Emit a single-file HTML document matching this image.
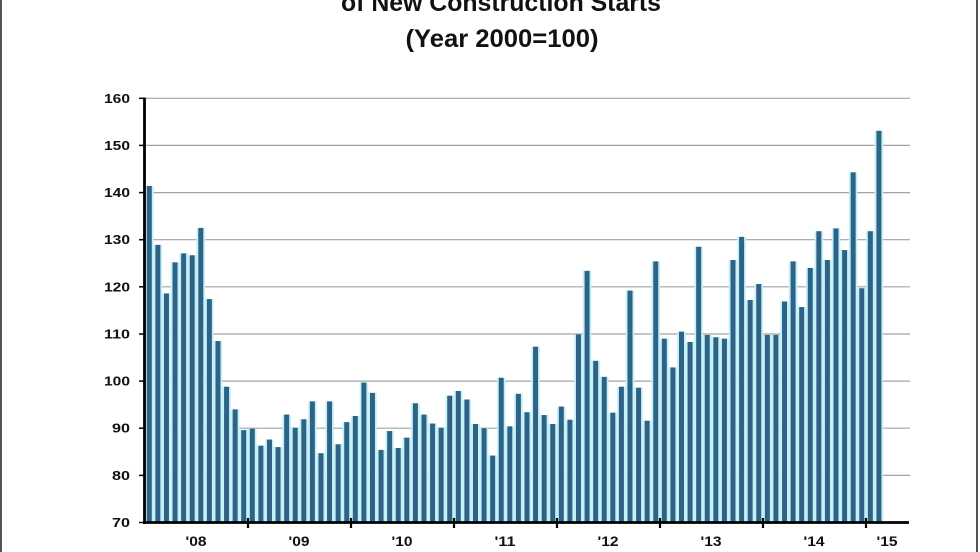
<!DOCTYPE html>
<html><head><meta charset="utf-8"><style>
html,body{margin:0;padding:0;background:#fff;}
svg{display:block;}
text{font-family:"Liberation Sans",Arial,sans-serif;font-weight:bold;fill:#111;}
</style></head><body>
<svg width="980" height="552" viewBox="0 0 980 552" xmlns="http://www.w3.org/2000/svg">
<rect x="0" y="0" width="980" height="552" fill="#fff"/>
<rect x="0" y="0" width="2" height="552" fill="#555"/>
<rect x="976" y="0" width="2" height="552" fill="#555"/>
<text x="501" y="11" font-size="25" text-anchor="middle" textLength="320" lengthAdjust="spacingAndGlyphs">of New Construction Starts</text>
<text x="502" y="47" font-size="25" text-anchor="middle" textLength="193" lengthAdjust="spacingAndGlyphs">(Year 2000=100)</text>
<g stroke="#a3a3a3" stroke-width="1.2">
<line x1="145" x2="910" y1="475.4" y2="475.4"/>
<line x1="145" x2="910" y1="428.2" y2="428.2"/>
<line x1="145" x2="910" y1="381.1" y2="381.1"/>
<line x1="145" x2="910" y1="334.0" y2="334.0"/>
<line x1="145" x2="910" y1="286.8" y2="286.8"/>
<line x1="145" x2="910" y1="239.7" y2="239.7"/>
<line x1="145" x2="910" y1="192.6" y2="192.6"/>
<line x1="145" x2="910" y1="145.4" y2="145.4"/>
<line x1="145" x2="910" y1="98.3" y2="98.3"/>
</g>
<g transform="translate(145,522.5) scale(8.584,-4.7133)">
<g fill="#c4f0fa">
<rect x="0" y="0" width="1" height="71.4"/><rect x="1" y="0" width="1" height="58.9"/><rect x="2" y="0" width="1" height="48.6"/><rect x="3" y="0" width="1" height="55.2"/><rect x="4" y="0" width="1" height="57.1"/><rect x="5" y="0" width="1" height="56.7"/><rect x="6" y="0" width="1" height="62.5"/><rect x="7" y="0" width="1" height="47.4"/><rect x="8" y="0" width="1" height="38.5"/><rect x="9" y="0" width="1" height="28.8"/><rect x="10" y="0" width="1" height="24.0"/><rect x="11" y="0" width="1" height="19.6"/>
<rect x="12" y="0" width="1" height="19.9"/><rect x="13" y="0" width="1" height="16.3"/><rect x="14" y="0" width="1" height="17.6"/><rect x="15" y="0" width="1" height="16.0"/><rect x="16" y="0" width="1" height="22.9"/><rect x="17" y="0" width="1" height="20.1"/><rect x="18" y="0" width="1" height="21.9"/><rect x="19" y="0" width="1" height="25.7"/><rect x="20" y="0" width="1" height="14.7"/><rect x="21" y="0" width="1" height="25.7"/><rect x="22" y="0" width="1" height="16.6"/><rect x="23" y="0" width="1" height="21.3"/>
<rect x="24" y="0" width="1" height="22.6"/><rect x="25" y="0" width="1" height="29.7"/><rect x="26" y="0" width="1" height="27.5"/><rect x="27" y="0" width="1" height="15.4"/><rect x="28" y="0" width="1" height="19.4"/><rect x="29" y="0" width="1" height="15.8"/><rect x="30" y="0" width="1" height="18.0"/><rect x="31" y="0" width="1" height="25.3"/><rect x="32" y="0" width="1" height="22.9"/><rect x="33" y="0" width="1" height="21.0"/><rect x="34" y="0" width="1" height="20.1"/><rect x="35" y="0" width="1" height="26.9"/>
<rect x="36" y="0" width="1" height="27.9"/><rect x="37" y="0" width="1" height="26.1"/><rect x="38" y="0" width="1" height="20.9"/><rect x="39" y="0" width="1" height="20.0"/><rect x="40" y="0" width="1" height="14.2"/><rect x="41" y="0" width="1" height="30.7"/><rect x="42" y="0" width="1" height="20.4"/><rect x="43" y="0" width="1" height="27.3"/><rect x="44" y="0" width="1" height="23.4"/><rect x="45" y="0" width="1" height="37.3"/><rect x="46" y="0" width="1" height="22.8"/><rect x="47" y="0" width="1" height="20.9"/>
<rect x="48" y="0" width="1" height="24.6"/><rect x="49" y="0" width="1" height="21.8"/><rect x="50" y="0" width="1" height="39.9"/><rect x="51" y="0" width="1" height="53.4"/><rect x="52" y="0" width="1" height="34.3"/><rect x="53" y="0" width="1" height="30.9"/><rect x="54" y="0" width="1" height="23.3"/><rect x="55" y="0" width="1" height="28.8"/><rect x="56" y="0" width="1" height="49.2"/><rect x="57" y="0" width="1" height="28.6"/><rect x="58" y="0" width="1" height="21.6"/><rect x="59" y="0" width="1" height="55.4"/>
<rect x="60" y="0" width="1" height="39.0"/><rect x="61" y="0" width="1" height="32.9"/><rect x="62" y="0" width="1" height="40.5"/><rect x="63" y="0" width="1" height="38.3"/><rect x="64" y="0" width="1" height="58.5"/><rect x="65" y="0" width="1" height="39.8"/><rect x="66" y="0" width="1" height="39.3"/><rect x="67" y="0" width="1" height="39.0"/><rect x="68" y="0" width="1" height="55.7"/><rect x="69" y="0" width="1" height="60.6"/><rect x="70" y="0" width="1" height="47.2"/><rect x="71" y="0" width="1" height="50.6"/>
<rect x="72" y="0" width="1" height="39.8"/><rect x="73" y="0" width="1" height="39.8"/><rect x="74" y="0" width="1" height="46.9"/><rect x="75" y="0" width="1" height="55.4"/><rect x="76" y="0" width="1" height="45.7"/><rect x="77" y="0" width="1" height="54.0"/><rect x="78" y="0" width="1" height="61.8"/><rect x="79" y="0" width="1" height="55.7"/><rect x="80" y="0" width="1" height="62.4"/><rect x="81" y="0" width="1" height="57.8"/><rect x="82" y="0" width="1" height="74.3"/><rect x="83" y="0" width="1" height="49.7"/>
<rect x="84" y="0" width="1" height="61.8"/><rect x="85" y="0" width="1" height="83.1"/>
</g>
<g fill="#2e6386">
<rect x="0.21" y="0" width="0.58" height="71.4"/><rect x="1.21" y="0" width="0.58" height="58.9"/><rect x="2.21" y="0" width="0.58" height="48.6"/><rect x="3.21" y="0" width="0.58" height="55.2"/><rect x="4.21" y="0" width="0.58" height="57.1"/><rect x="5.21" y="0" width="0.58" height="56.7"/><rect x="6.21" y="0" width="0.58" height="62.5"/><rect x="7.21" y="0" width="0.58" height="47.4"/><rect x="8.21" y="0" width="0.58" height="38.5"/><rect x="9.21" y="0" width="0.58" height="28.8"/><rect x="10.21" y="0" width="0.58" height="24.0"/><rect x="11.21" y="0" width="0.58" height="19.6"/>
<rect x="12.21" y="0" width="0.58" height="19.9"/><rect x="13.21" y="0" width="0.58" height="16.3"/><rect x="14.21" y="0" width="0.58" height="17.6"/><rect x="15.21" y="0" width="0.58" height="16.0"/><rect x="16.21" y="0" width="0.58" height="22.9"/><rect x="17.21" y="0" width="0.58" height="20.1"/><rect x="18.21" y="0" width="0.58" height="21.9"/><rect x="19.21" y="0" width="0.58" height="25.7"/><rect x="20.21" y="0" width="0.58" height="14.7"/><rect x="21.21" y="0" width="0.58" height="25.7"/><rect x="22.21" y="0" width="0.58" height="16.6"/><rect x="23.21" y="0" width="0.58" height="21.3"/>
<rect x="24.21" y="0" width="0.58" height="22.6"/><rect x="25.21" y="0" width="0.58" height="29.7"/><rect x="26.21" y="0" width="0.58" height="27.5"/><rect x="27.21" y="0" width="0.58" height="15.4"/><rect x="28.21" y="0" width="0.58" height="19.4"/><rect x="29.21" y="0" width="0.58" height="15.8"/><rect x="30.21" y="0" width="0.58" height="18.0"/><rect x="31.21" y="0" width="0.58" height="25.3"/><rect x="32.21" y="0" width="0.58" height="22.9"/><rect x="33.21" y="0" width="0.58" height="21.0"/><rect x="34.21" y="0" width="0.58" height="20.1"/><rect x="35.21" y="0" width="0.58" height="26.9"/>
<rect x="36.21" y="0" width="0.58" height="27.9"/><rect x="37.21" y="0" width="0.58" height="26.1"/><rect x="38.21" y="0" width="0.58" height="20.9"/><rect x="39.21" y="0" width="0.58" height="20.0"/><rect x="40.21" y="0" width="0.58" height="14.2"/><rect x="41.21" y="0" width="0.58" height="30.7"/><rect x="42.21" y="0" width="0.58" height="20.4"/><rect x="43.21" y="0" width="0.58" height="27.3"/><rect x="44.21" y="0" width="0.58" height="23.4"/><rect x="45.21" y="0" width="0.58" height="37.3"/><rect x="46.21" y="0" width="0.58" height="22.8"/><rect x="47.21" y="0" width="0.58" height="20.9"/>
<rect x="48.21" y="0" width="0.58" height="24.6"/><rect x="49.21" y="0" width="0.58" height="21.8"/><rect x="50.21" y="0" width="0.58" height="39.9"/><rect x="51.21" y="0" width="0.58" height="53.4"/><rect x="52.21" y="0" width="0.58" height="34.3"/><rect x="53.21" y="0" width="0.58" height="30.9"/><rect x="54.21" y="0" width="0.58" height="23.3"/><rect x="55.21" y="0" width="0.58" height="28.8"/><rect x="56.21" y="0" width="0.58" height="49.2"/><rect x="57.21" y="0" width="0.58" height="28.6"/><rect x="58.21" y="0" width="0.58" height="21.6"/><rect x="59.21" y="0" width="0.58" height="55.4"/>
<rect x="60.21" y="0" width="0.58" height="39.0"/><rect x="61.21" y="0" width="0.58" height="32.9"/><rect x="62.21" y="0" width="0.58" height="40.5"/><rect x="63.21" y="0" width="0.58" height="38.3"/><rect x="64.21" y="0" width="0.58" height="58.5"/><rect x="65.21" y="0" width="0.58" height="39.8"/><rect x="66.21" y="0" width="0.58" height="39.3"/><rect x="67.21" y="0" width="0.58" height="39.0"/><rect x="68.21" y="0" width="0.58" height="55.7"/><rect x="69.21" y="0" width="0.58" height="60.6"/><rect x="70.21" y="0" width="0.58" height="47.2"/><rect x="71.21" y="0" width="0.58" height="50.6"/>
<rect x="72.21" y="0" width="0.58" height="39.8"/><rect x="73.21" y="0" width="0.58" height="39.8"/><rect x="74.21" y="0" width="0.58" height="46.9"/><rect x="75.21" y="0" width="0.58" height="55.4"/><rect x="76.21" y="0" width="0.58" height="45.7"/><rect x="77.21" y="0" width="0.58" height="54.0"/><rect x="78.21" y="0" width="0.58" height="61.8"/><rect x="79.21" y="0" width="0.58" height="55.7"/><rect x="80.21" y="0" width="0.58" height="62.4"/><rect x="81.21" y="0" width="0.58" height="57.8"/><rect x="82.21" y="0" width="0.58" height="74.3"/><rect x="83.21" y="0" width="0.58" height="49.7"/>
<rect x="84.21" y="0" width="0.58" height="61.8"/><rect x="85.21" y="0" width="0.58" height="83.1"/>
</g>
</g>
<g stroke="#000" fill="none">
<line x1="144.5" y1="97.5" x2="144.5" y2="524" stroke-width="2.8"/>
<line x1="143" y1="522.5" x2="909" y2="522.5" stroke-width="2.8"/>
<g stroke-width="1.5">
<line x1="139" x2="145" y1="98.3" y2="98.3"/>
<line x1="139" x2="145" y1="145.4" y2="145.4"/>
<line x1="139" x2="145" y1="192.6" y2="192.6"/>
<line x1="139" x2="145" y1="239.7" y2="239.7"/>
<line x1="139" x2="145" y1="286.8" y2="286.8"/>
<line x1="139" x2="145" y1="334.0" y2="334.0"/>
<line x1="139" x2="145" y1="381.1" y2="381.1"/>
<line x1="139" x2="145" y1="428.2" y2="428.2"/>
<line x1="139" x2="145" y1="475.4" y2="475.4"/>
<line x1="139" x2="145" y1="522.5" y2="522.5"/>
</g>
<g stroke-width="2.2">
<line x1="248" x2="248" y1="518" y2="528"/>
<line x1="351" x2="351" y1="518" y2="528"/>
<line x1="454" x2="454" y1="518" y2="528"/>
<line x1="557" x2="557" y1="518" y2="528"/>
<line x1="660" x2="660" y1="518" y2="528"/>
<line x1="763" x2="763" y1="518" y2="528"/>
<line x1="866" x2="866" y1="518" y2="528"/>
</g>
</g>
<g font-size="12.5" text-anchor="end">
<text x="130" y="102.8" textLength="26" lengthAdjust="spacingAndGlyphs">160</text>
<text x="130" y="149.9" textLength="26" lengthAdjust="spacingAndGlyphs">150</text>
<text x="130" y="197.1" textLength="26" lengthAdjust="spacingAndGlyphs">140</text>
<text x="130" y="244.2" textLength="26" lengthAdjust="spacingAndGlyphs">130</text>
<text x="130" y="291.3" textLength="26" lengthAdjust="spacingAndGlyphs">120</text>
<text x="130" y="338.5" textLength="26" lengthAdjust="spacingAndGlyphs">110</text>
<text x="130" y="385.6" textLength="26" lengthAdjust="spacingAndGlyphs">100</text>
<text x="130" y="432.7" textLength="18" lengthAdjust="spacingAndGlyphs">90</text>
<text x="130" y="479.9" textLength="18" lengthAdjust="spacingAndGlyphs">80</text>
<text x="130" y="527.0" textLength="18" lengthAdjust="spacingAndGlyphs">70</text>
</g>
<g font-size="13.5" text-anchor="middle">
<text x="196" y="546" textLength="21" lengthAdjust="spacingAndGlyphs">'08</text>
<text x="299" y="546" textLength="21" lengthAdjust="spacingAndGlyphs">'09</text>
<text x="402" y="546" textLength="21" lengthAdjust="spacingAndGlyphs">'10</text>
<text x="505" y="546" textLength="21" lengthAdjust="spacingAndGlyphs">'11</text>
<text x="608" y="546" textLength="21" lengthAdjust="spacingAndGlyphs">'12</text>
<text x="711" y="546" textLength="21" lengthAdjust="spacingAndGlyphs">'13</text>
<text x="814" y="546" textLength="21" lengthAdjust="spacingAndGlyphs">'14</text>
<text x="887" y="546" textLength="21" lengthAdjust="spacingAndGlyphs">'15</text>
</g>
</svg>
</body></html>
